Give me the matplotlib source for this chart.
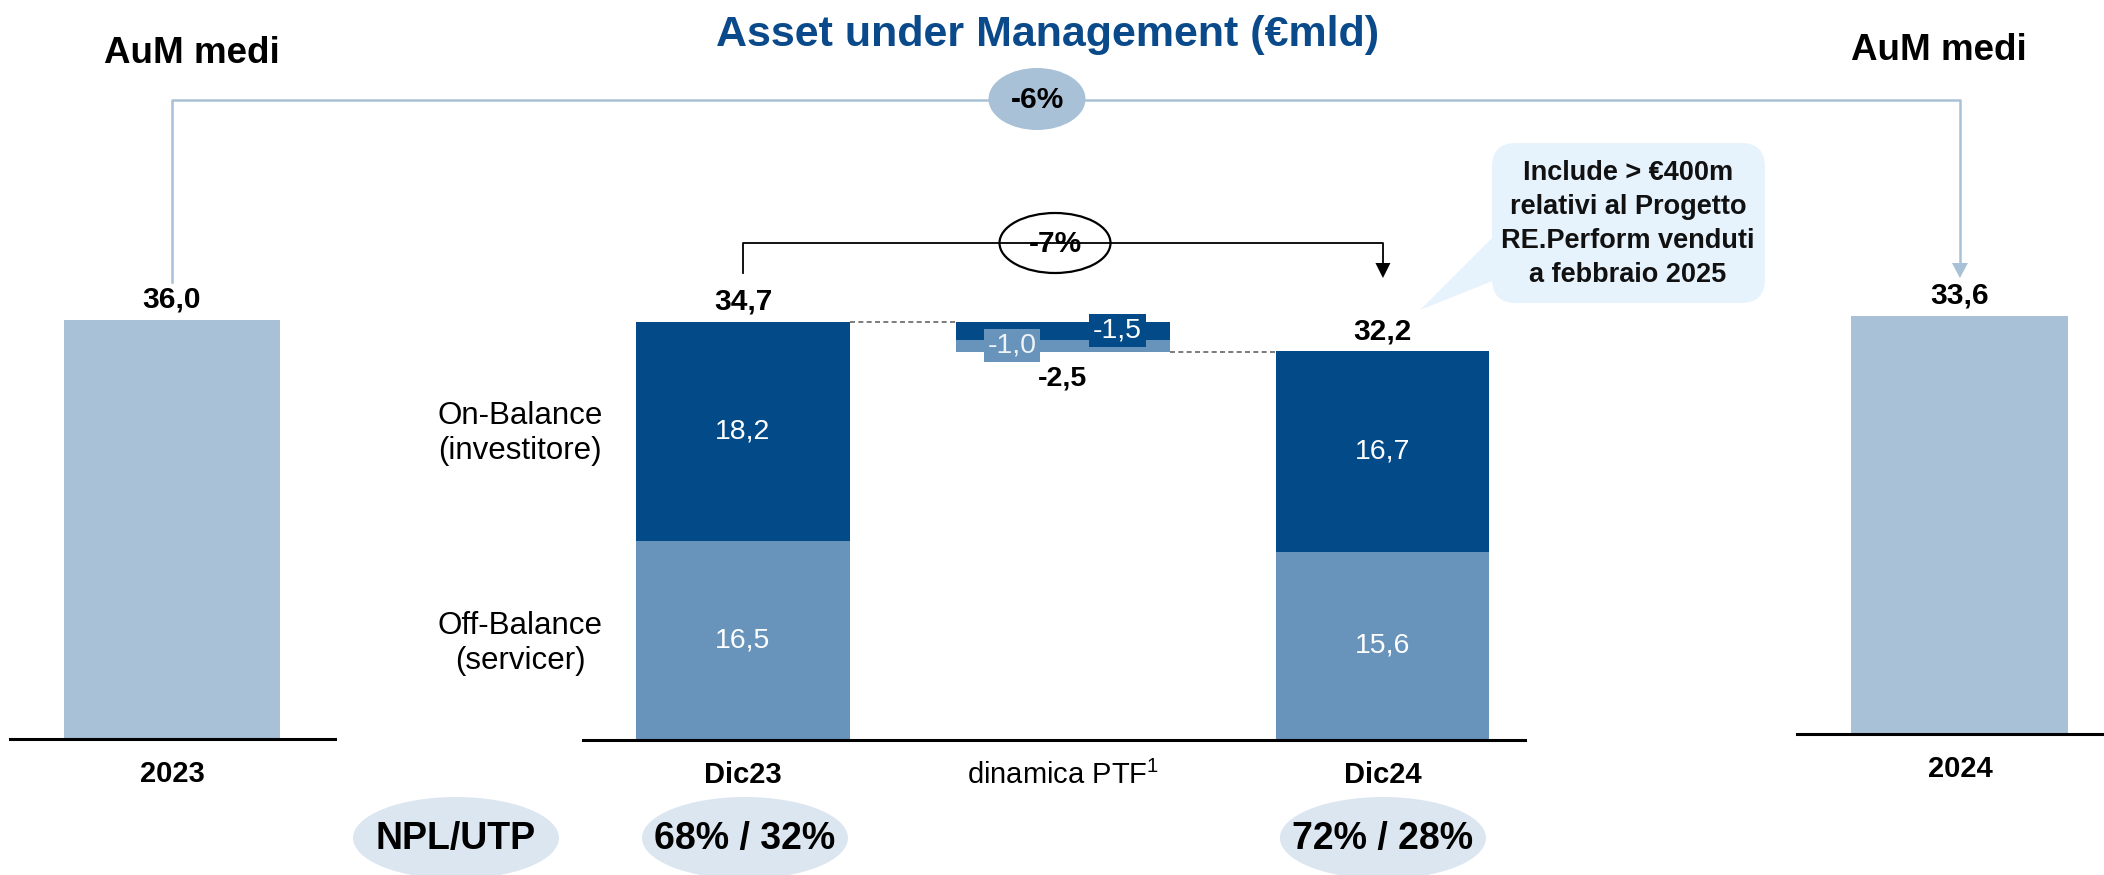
import matplotlib.pyplot as plt
from matplotlib.patches import Ellipse, FancyBboxPatch, Polygon

plt.rcParams['font.family'] = ['Liberation Sans', 'DejaVu Sans']
plt.rcParams['mathtext.fontset'] = 'custom'
plt.rcParams['mathtext.rm'] = 'Liberation Sans'
plt.rcParams['mathtext.it'] = 'Liberation Sans:italic'
plt.rcParams['mathtext.bf'] = 'Liberation Sans:bold'

W, H = 2104, 875

# --- data ---
avg_years = ['2023', '2024']
avg_aum = [36.0, 33.6]
periods = ['Dic23', 'Dic24']
on_balance = [18.2, 16.7]
off_balance = [16.5, 15.6]
totals = [34.7, 32.2]
delta_on = -1.5
delta_off = -1.0
delta_total = -2.5
delta_name = 'dinamica PTF$^1$'
avg_change = '-6%'
period_change = '-7%'
npl_utp = ['68% / 32%', '72% / 28%']
note = 'Include > €400m\nrelativi al Progetto\nRE.Perform venduti\na febbraio 2025'

NAVY = '#034A89'
STEEL = '#6893BA'
PALE = '#A8C1D6'
TITLE = '#0A4A8A'
OVAL = '#DCE6F0'
NOTE_BG = '#E6F2FC'


def fmt(v):
    return f'{v:.1f}'.replace('.', ',')


fig = plt.figure(figsize=(W / 100, H / 100), dpi=100)


def add_axes(x0, x1, ybase, height=481):
    return fig.add_axes([x0 / W, 1 - ybase / H, (x1 - x0) / W, height / H])


def style(ax):
    for s in ['top', 'left', 'right']:
        ax.spines[s].set_visible(False)
    ax.spines['bottom'].set_linewidth(2.2)
    ax.spines['bottom'].set_color('black')
    ax.set_yticks([])
    ax.tick_params(axis='x', length=0, pad=15, labelsize=21)


ax_l = add_axes(10, 335, 739)
ax_c = add_axes(583, 1525, 740)
ax_r = add_axes(1797, 2104, 734)
for ax in (ax_l, ax_c, ax_r):
    style(ax)

# side panels: average AuM
for ax, year, val, xl, top in [(ax_l, avg_years[0], avg_aum[0], (-0.75, 0.755), 41.3),
                               (ax_r, avg_years[1], avg_aum[1], (-0.751, 0.664), 38.66)]:
    ax.bar(0, val, width=1.0, color=PALE)
    ax.set_xlim(*xl)
    ax.set_ylim(0, top)
    ax.set_xticks([0])
    ax.set_xticklabels([year], fontweight='bold')
    ax.annotate(fmt(val), (0, val), xytext=(0, 9), textcoords='offset points',
                ha='center', va='baseline', fontsize=21.5, fontweight='bold')

# centre: stacked bars + bridge
bw = 0.666
xs = [0, 2]
ax_c.bar(xs, off_balance, width=bw, color=STEEL)
ax_c.bar(xs, on_balance, bottom=off_balance, width=bw, color=NAVY)
on_bottom = totals[0] + delta_on
off_bottom = totals[0] + delta_total
ax_c.bar(1, -delta_on, bottom=on_bottom, width=bw, color=NAVY)
ax_c.bar(1, -delta_off, bottom=off_bottom, width=bw, color=STEEL)
ax_c.set_xlim(-0.5, 2.444)
ax_c.set_ylim(0, 39.9)
ax_c.set_xticks([0, 1, 2])
ax_c.set_xticklabels([periods[0], delta_name, periods[1]])
for i, t in enumerate(ax_c.get_xticklabels()):
    t.set_fontweight('normal' if i == 1 else 'bold')

for x, off, on, tot in zip(xs, off_balance, on_balance, totals):
    ax_c.text(x, off / 2, fmt(off), color='white', fontsize=20.5, ha='center', va='center')
    ax_c.text(x, off + on / 2, fmt(on), color='white', fontsize=20.5, ha='center', va='center')
    ax_c.annotate(fmt(tot), (x, tot), xytext=(0, 9), textcoords='offset points',
                  ha='center', va='baseline', fontsize=21.5, fontweight='bold')

ax_c.text(1 - 0.16, off_bottom - delta_off / 2, fmt(delta_off), color='#EEF3F8', fontsize=20.5,
          ha='center', va='center', bbox=dict(facecolor=STEEL, edgecolor='none', pad=2.6))
ax_c.text(1 + 0.17, on_bottom - delta_on / 2, fmt(delta_on), color='white', fontsize=20.5,
          ha='center', va='center', bbox=dict(facecolor=NAVY, edgecolor='none', pad=2.6))
ax_c.annotate(fmt(delta_total), (1, off_bottom), xytext=(0, -19), textcoords='offset points',
              ha='center', va='center', fontsize=20.5, fontweight='bold')
ax_c.plot([bw / 2, 1 - bw / 2], [totals[0]] * 2, color='#666666', lw=1.2, ls=(0, (3, 2)))
ax_c.plot([1 + bw / 2, 2 - bw / 2], [totals[1]] * 2, color='#666666', lw=1.2, ls=(0, (3, 2)))

# overlay in pixel coordinates (y downwards)
ov = fig.add_axes([0, 0, 1, 1], zorder=5)
ov.set_xlim(0, W)
ov.set_ylim(H, 0)
ov.axis('off')
ov.patch.set_alpha(0)


def px(ax, x, y):
    d = ax.transData.transform((x, y))
    return d[0], H - d[1]


ov.text(1048, 46, 'Asset under Management (€mld)', ha='center', va='baseline',
        fontsize=31, fontweight='bold', color=TITLE)
ov.text(192, 63, 'AuM medi', ha='center', va='baseline', fontsize=26.5, fontweight='bold')
ov.text(1939, 60, 'AuM medi', ha='center', va='baseline', fontsize=26.5, fontweight='bold')

# -6% connector between the averages
xl0 = px(ax_l, 0, 0)[0]
xr0 = px(ax_r, 0, 0)[0]
ov.plot([xl0, xl0, xr0, xr0], [282, 100, 100, 264], color=PALE, lw=1.8)
ov.add_patch(Polygon([(xr0 - 8, 263), (xr0 + 8, 263), (xr0, 278)], closed=True, fc=PALE, ec='none'))
ov.add_patch(Ellipse((1037, 99), 97, 62, fc=PALE, ec='none'))
ov.text(1037, 100, avg_change, ha='center', va='center', fontsize=21.5, fontweight='bold')

# -7% bracket between Dic23 and Dic24
xa = px(ax_c, 0, 0)[0]
xb = px(ax_c, 2, 0)[0]
ov.plot([xa, xa, xb, xb], [273, 243, 243, 264], color='black', lw=1.3)
ov.add_patch(Polygon([(xb - 7.5, 263), (xb + 7.5, 263), (xb, 278)], closed=True, fc='black', ec='none'))
ov.add_patch(Ellipse((1055, 243), 111, 60, fc='white', ec='black', lw=1.6))
ov.text(1055, 244, period_change, ha='center', va='center', fontsize=21.5, fontweight='bold')

# callout
ov.add_patch(FancyBboxPatch((1492, 143), 273, 160, boxstyle='round,pad=0,rounding_size=24',
                            fc=NOTE_BG, ec='none'))
ov.add_patch(Polygon([(1494, 236), (1420, 310), (1500, 278)], closed=True, fc=NOTE_BG, ec='none'))
ov.text(1628, 224, note, ha='center', va='center', fontsize=19.5, fontweight='bold',
        color='#111111', linespacing=1.4)

# side labels
lx = 520
ov.text(lx, px(ax_c, 0, off_balance[0] + on_balance[0] / 2)[1] + 2, 'On-Balance\n(investitore)',
        ha='center', va='center', fontsize=22.5, linespacing=1.25)
ov.text(lx, px(ax_c, 0, off_balance[0] / 2)[1] + 3, 'Off-Balance\n(servicer)',
        ha='center', va='center', fontsize=22.5, linespacing=1.25)

# NPL/UTP ovals
oy = 838
for x, txt in [(456, 'NPL/UTP'), (px(ax_c, 0, 0)[0] + 2, npl_utp[0]), (px(ax_c, 2, 0)[0], npl_utp[1])]:
    ov.add_patch(Ellipse((x, oy), 206, 82, fc=OVAL, ec='none'))
    ov.text(x, oy + 1, txt, ha='center', va='center', fontsize=27, fontweight='bold')

fig.savefig('out.png', dpi=100)
